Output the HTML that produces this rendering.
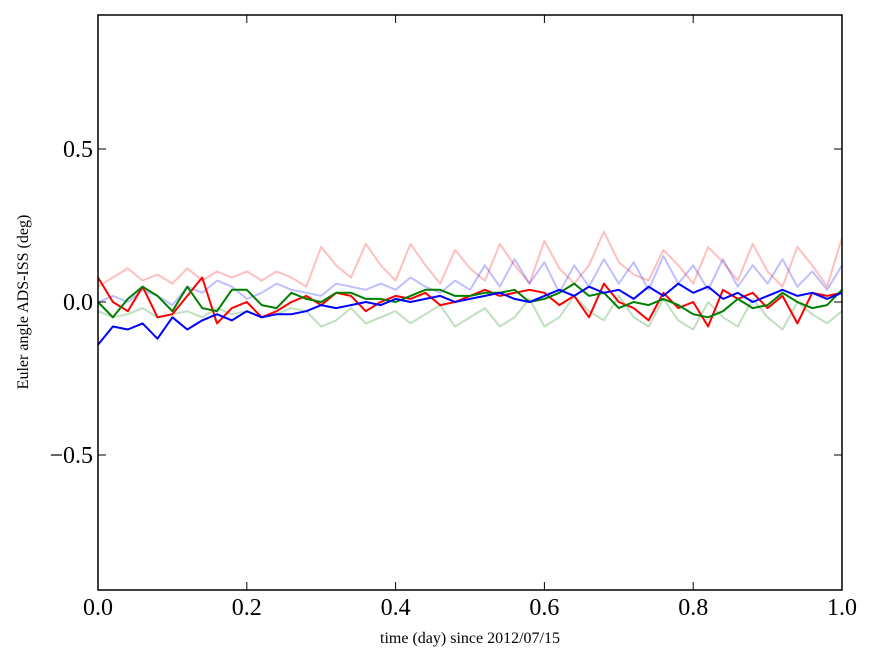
<!DOCTYPE html>
<html><head><meta charset="utf-8"><style>
body{margin:0;background:#fff;}
svg{display:block;font-family:"Liberation Serif","DejaVu Serif",serif;}
</style></head><body>
<svg id="chart" width="875" height="662">
<rect width="875" height="662" fill="#fff"/>
<g id="series"></g>
<rect x="98" y="15" width="744" height="575" fill="none" stroke="#000" stroke-width="1.5"/>
<g id="ticks"></g>
<text x="470" y="643" font-size="16" text-anchor="middle">time (day) since 2012/07/15</text>
<text transform="translate(28,302) rotate(-90)" font-size="16" text-anchor="middle">Euler angle ADS-ISS (deg)</text>
</svg>
<script>
const xTicks=[0,0.2,0.4,0.6,0.8,1.0];
const xTickLabels=["0.0","0.2","0.4","0.6","0.8","1.0"];
const yTicks=[-0.5,0,0.5];
const yTickLabels=["\u22120.5","0.0","0.5"];
const times=[0,.02,.04,.06,.08,.1,.12,.14,.16,.18,.2,.22,.24,.26,.28,.3,.32,.34,.36,.38,.4,.42,.44,.46,.48,.5,.52,.54,.56,.58,.6,.62,.64,.66,.68,.7,.72,.74,.76,.78,.8,.82,.84,.86,.88,.9,.92,.94,.96,.98,1.0];
const pinkVals=[.05,.08,.11,.07,.09,.06,.11,.07,.10,.08,.10,.07,.10,.08,.05,.18,.12,.08,.19,.12,.07,.19,.12,.06,.17,.11,.07,.19,.12,.06,.20,.11,.06,.12,.23,.13,.09,.07,.17,.12,.06,.18,.13,.07,.19,.10,.05,.18,.12,.05,.21];
const lightBlueVals=[0,.02,0,.04,.02,-.01,.05,.03,.07,.05,.01,.03,.06,.04,.03,.02,.06,.05,.04,.06,.04,.08,.05,.03,.07,.04,.12,.05,.14,.06,.13,.03,.12,.05,.14,.06,.13,.04,.15,.06,.12,.04,.14,.05,.12,.06,.14,.05,.10,.04,.12];
const lightGreenVals=[-.03,-.05,-.04,-.02,-.05,-.04,-.03,-.05,-.02,-.04,-.03,-.05,-.04,-.02,-.03,-.08,-.06,-.02,-.07,-.05,-.03,-.07,-.04,-.01,-.08,-.05,-.02,-.08,-.05,.01,-.08,-.05,.02,-.03,-.06,.02,-.05,-.08,.01,-.06,-.09,0,-.05,-.08,.01,-.05,-.09,0,-.04,-.07,-.03];
const redVals=[.08,0,-.03,.05,-.05,-.04,.02,.08,-.07,-.02,0,-.05,-.03,0,.02,-.01,.03,.02,-.03,0,.02,.01,.03,-.01,0,.02,.04,.02,.03,.04,.03,-.01,.02,-.05,.06,0,-.02,-.06,.03,-.02,0,-.08,.04,.01,.03,-.02,.02,-.07,.03,.02,.03];
const greenVals=[0,-.05,.01,.05,.02,-.03,.05,-.02,-.03,.04,.04,-.01,-.02,.03,.01,0,.03,.03,.01,.01,0,.02,.04,.04,.02,.02,.03,.03,.04,0,.01,.03,.06,.02,.03,-.02,0,-.01,.01,-.01,-.04,-.05,-.03,.01,-.02,-.01,.03,0,-.02,-.01,.04];
const blueVals=[-.14,-.08,-.09,-.07,-.12,-.05,-.09,-.06,-.04,-.06,-.03,-.05,-.04,-.04,-.03,-.01,-.02,-.01,0,-.01,.01,0,.01,.02,0,.01,.02,.03,.01,0,.02,.04,.02,.05,.03,.04,.01,.05,.02,.06,.03,.05,.01,.03,0,.02,.04,.02,.03,.01,.03];

const X=t=>98+t*744;
const Y=v=>302-v*306;
const NS="http://www.w3.org/2000/svg";
const sg=document.getElementById('series');
function line(vals,color,op,name){
  const p=document.createElementNS(NS,'polyline');
  p.setAttribute('points',vals.map((v,i)=>X(times[i]).toFixed(1)+','+Y(v).toFixed(1)).join(' '));
  p.setAttribute('fill','none');p.setAttribute('stroke',color);
  p.setAttribute('stroke-width','2');p.setAttribute('stroke-opacity',op);
  p.setAttribute('stroke-linejoin','round');
  
  
  sg.appendChild(p);
}
line(pinkVals,'#ff0000',0.25,'faint-red-series');
line(lightBlueVals,'#0000ff',0.25,'faint-blue-series');
line(lightGreenVals,'#008000',0.25,'faint-green-series');
line(redVals,'#ff0000',1,'red-series');
line(greenVals,'#008000',1,'green-series');
line(blueVals,'#0000ff',1,'blue-series');

const tg=document.getElementById('ticks');
function el(tag,attrs){const e=document.createElementNS(NS,tag);for(const k in attrs)e.setAttribute(k,attrs[k]);tg.appendChild(e);return e;}
xTicks.forEach((t,i)=>{
  const x=X(t);
  const a=el('line',{x1:x,x2:x,y1:590,y2:582,stroke:'#000'});
  
  
  const b=el('line',{x1:x,x2:x,y1:15,y2:23,stroke:'#000'});
  
  
  const tx=el('text',{x:x,y:615,'font-size':24,'text-anchor':'middle'});
  tx.textContent=xTickLabels[i];
  
  
});
yTicks.forEach((v,i)=>{
  const y=Y(v);
  const a=el('line',{x1:98,x2:106,y1:y,y2:y,stroke:'#000'});
  
  
  const b=el('line',{x1:834,x2:842,y1:y,y2:y,stroke:'#000'});
  
  
  const tx=el('text',{x:93,y:y+8,'font-size':24,'text-anchor':'end'});
  tx.textContent=yTickLabels[i];
  
  
});
</script>
</body></html>
